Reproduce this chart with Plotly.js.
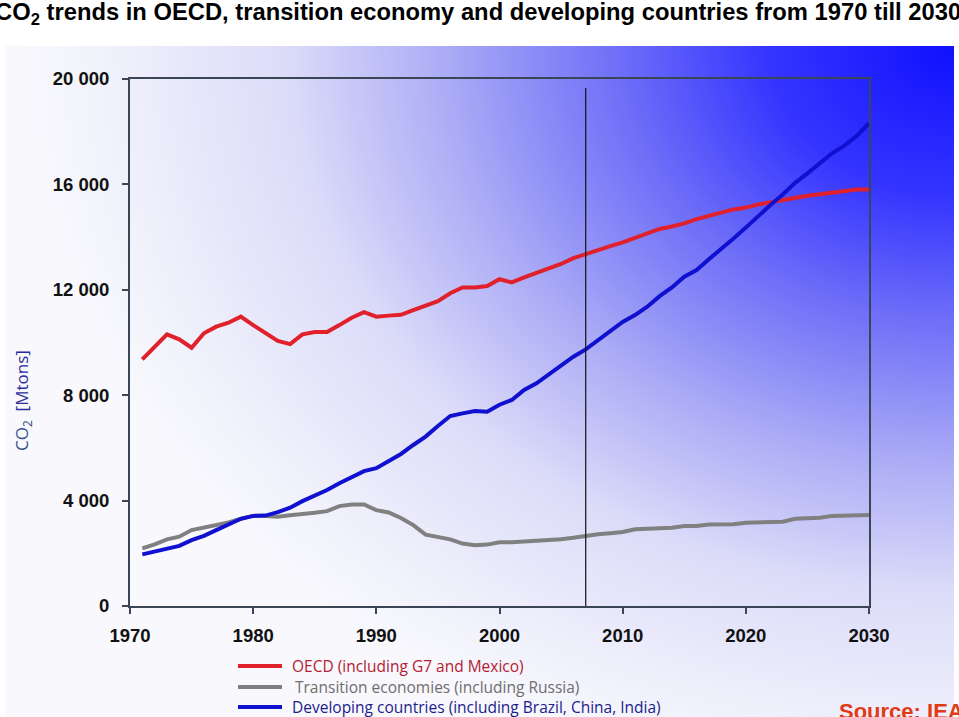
<!DOCTYPE html>
<html>
<head>
<meta charset="utf-8">
<script src="https://cdn.plot.ly/plotly-3.0.1.min.js"></script>
<style>
  html, body { margin: 0; padding: 0; background: #ffffff; width: 959px; height: 717px; overflow: hidden; }
  #bg {
    position: absolute; left: 5px; top: 46px; width: 949px; height: 671px;
    background: radial-gradient(ellipse 930px 760px at 100% 0%,
      #1010ff 0%, #3535ff 20%, #6e6ef8 36%, #acacf6 55%, #dcdcf9 72%, #f2f2fc 92%, #f8f8fd 100%);
  }
  #chart { position: absolute; left: 0; top: 0; width: 959px; height: 717px; }
</style>
</head>
<body>
<div id="bg"></div>
<div id="chart"></div>
<script>
// ---- data ----
const years = [1971,1972,1973,1974,1975,1976,1977,1978,1979,1980,
  1981,1982,1983,1984,1985,1986,1987,1988,1989,1990,
  1991,1992,1993,1994,1995,1996,1997,1998,1999,2000,
  2001,2002,2003,2004,2005,2006,2007,2008,2009,2010,
  2011,2012,2013,2014,2015,2016,2017,2018,2019,2020,
  2021,2022,2023,2024,2025,2026,2027,2028,2029,2030];

const oecd = [9360,9830,10310,10120,9800,10350,10600,10750,10980,10660,
  10350,10060,9940,10310,10400,10400,10660,10940,11150,10980,
  11020,11050,11230,11420,11570,11870,12090,12090,12140,12400,
  12280,12470,12630,12800,12980,13200,13360,13510,13660,13800,
  13980,14170,14310,14400,14520,14680,14810,14940,15050,15120,
  15240,15320,15410,15470,15570,15630,15690,15750,15810,15810];

const transition = [2190,2340,2530,2630,2880,2970,3050,3170,3310,3420,
  3420,3390,3440,3480,3540,3600,3790,3850,3850,3640,
  3550,3340,3070,2710,2620,2530,2370,2310,2330,2420,
  2420,2440,2480,2480,2530,2590,2660,2720,2760,2810,
  2910,2930,2950,2970,3040,3040,3090,3100,3100,3160,
  3170,3180,3200,3310,3340,3350,3420,3420,3450,3450];

const developing = [1960,2060,2180,2280,2500,2660,2880,3100,3310,3420,
  3430,3560,3730,3980,4170,4400,4660,4910,5120,5230,
  5500,5770,6110,6430,6830,7210,7310,7400,7370,7640,
  7820,8200,8450,8790,9110,9460,9740,10090,10450,10780,
  11040,11360,11760,12090,12500,12750,13160,13540,13950,14360,
  14800,15220,15620,16060,16420,16820,17180,17470,17840,18320];

const seriesNames = [
  'OECD (including G7 and Mexico)',
  'Transition economies (including Russia)',
  'Developing countries (including Brazil, China, India)'
];
const lineColors = ['#e0202a', '#808080', '#1010d0'];
const labelColors = ['#b52030', '#6e6e6e', '#1c1c8c'];
const seriesData = [oecd, transition, developing];

const forecastYear = 2007;
const xTicks = [1970,1980,1990,2000,2010,2020,2030];

const traces = seriesData.map((vals, i) => ({
  x: years, y: vals, type: 'scatter', mode: 'lines',
  name: seriesNames[i],
  line: { color: lineColors[i], width: 4 },
  hoverinfo: 'skip'
}));

// ---- layout helpers (pixel -> paper, plot area 130..869 x 79..606) ----
const PL = 130, PW = 739, PB = 606, PH = 527;
const px = v => (v - PL) / PW;
const py = v => (PB - v) / PH;

const legendRowsY = [666, 687, 707];
const legendLineX = [238, 282];
const legendTextX = [290, 293, 290];

const axisColor = '#3a4656';
const tickFont = { family: 'Liberation Sans, Arial, sans-serif', size: 18.5, color: '#111111', weight: 'bold' };

const shapes = [{
  type: 'line', xref: 'x', yref: 'paper',
  x0: forecastYear, x1: forecastYear, y0: 0, y1: py(88),
  line: { color: '#111111', width: 1.2 }
}];
const annotations = [
  {
    text: 'CO<sub>2</sub> trends in OECD, transition economy and developing countries from 1970 till 2030',
    xref: 'paper', yref: 'paper', x: px(478), y: py(13), xanchor: 'center', yanchor: 'middle',
    showarrow: false,
    font: { family: 'Liberation Sans, Arial, sans-serif', size: 24, color: '#000000', weight: 'bold' }
  },
  {
    text: '<span style="color:#34508c">CO<sub>2</sub></span>  <span style="color:#2c2c9c">[Mtons]</span>',
    xref: 'paper', yref: 'paper', x: px(22), y: py(401), xanchor: 'center', yanchor: 'middle',
    textangle: -90, showarrow: false,
    font: { family: 'Open Sans, Noto Sans, sans-serif', size: 17 }
  },
  {
    text: 'Source: IEA',
    xref: 'paper', yref: 'paper', x: px(837), y: py(697), xanchor: 'left', yanchor: 'top',
    showarrow: false,
    font: { family: 'Liberation Sans, Arial, sans-serif', size: 22, color: '#e23a14', weight: 'bold' }
  }
];
seriesNames.forEach((name, i) => {
  shapes.push({
    type: 'line', xref: 'paper', yref: 'paper',
    x0: px(legendLineX[0]), x1: px(legendLineX[1]), y0: py(legendRowsY[i]), y1: py(legendRowsY[i]),
    line: { color: lineColors[i], width: 4 }
  });
  annotations.push({
    text: name, xref: 'paper', yref: 'paper',
    x: px(legendTextX[i]), y: py(legendRowsY[i]), xanchor: 'left', yanchor: 'middle',
    showarrow: false,
    font: { family: 'Open Sans, Noto Sans, sans-serif', size: 15.5, color: labelColors[i] }
  });
});

const layout = {
  width: 959, height: 717,
  margin: { l: 130, r: 90, t: 79, b: 111, autoexpand: false },
  paper_bgcolor: 'rgba(0,0,0,0)',
  plot_bgcolor: 'rgba(0,0,0,0)',
  separators: '. ',
  showlegend: false,
  xaxis: {
    range: [1970, 2030], tickvals: xTicks,
    showgrid: false, zeroline: false,
    showline: true, linecolor: axisColor, linewidth: 2, mirror: true,
    ticks: 'outside', ticklen: 6, tickcolor: axisColor, tickwidth: 2,
    tickfont: tickFont, ticklabelstandoff: 6
  },
  yaxis: {
    range: [0, 20000], dtick: 4000, tick0: 0, tickformat: ',d',
    showgrid: false, zeroline: false,
    showline: true, linecolor: axisColor, linewidth: 2, mirror: true,
    ticks: 'outside', ticklen: 6, tickcolor: axisColor, tickwidth: 2,
    tickfont: tickFont, ticklabelstandoff: 9
  },
  shapes: shapes,
  annotations: annotations
};

Plotly.newPlot('chart', traces, layout, { staticPlot: true, displayModeBar: false }).then(function () {
  // condense the headline horizontally, as in the reference (narrow bold face)
  const t = document.querySelector('.annotation-text');
  if (t) {
    t.setAttribute('textLength', '966');
    t.setAttribute('lengthAdjust', 'spacingAndGlyphs');
  }
});
</script>
</body>
</html>
